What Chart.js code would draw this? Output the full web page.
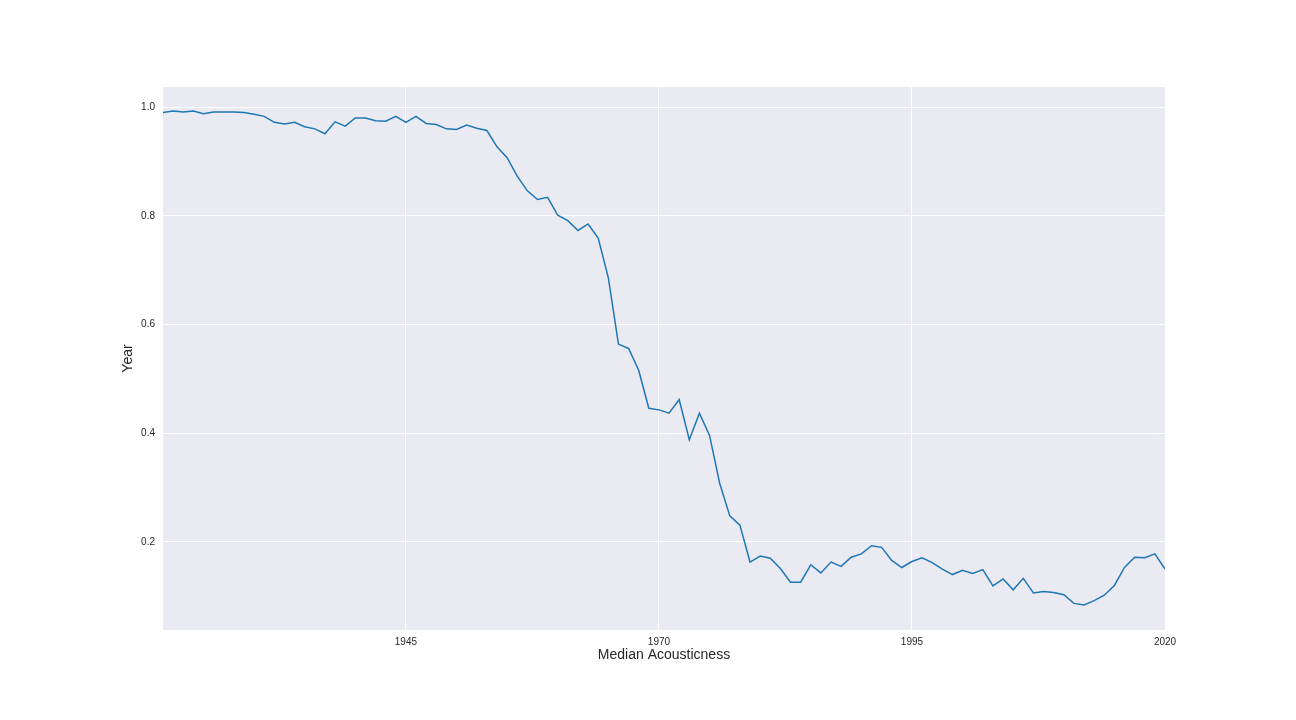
<!DOCTYPE html>
<html>
<head>
<meta charset="utf-8">
<script src="https://cdn.jsdelivr.net/npm/chart.js@4"></script>
<style>
    html, body { margin: 0; padding: 0; background: #ffffff; }
    #chart { display: block; }
</style>
</head>
<body>
<canvas id="chart" width="1296" height="720"></canvas>
<script>
// Years along the x axis
const years = [];
for (let y = 1921; y <= 2020; y++) years.push(y);

// Median acousticness per year
const acousticness = [
    0.990, 0.993, 0.991, 0.993, 0.988, 0.991, 0.991, 0.991, 0.990, 0.987,
    0.983, 0.972, 0.969, 0.972, 0.964, 0.960, 0.951, 0.973, 0.965, 0.980,
    0.980, 0.975, 0.974, 0.983, 0.972, 0.983, 0.970, 0.968, 0.960, 0.959,
    0.967, 0.961, 0.957, 0.927, 0.907, 0.873, 0.846, 0.830, 0.834, 0.801,
    0.791, 0.773, 0.785, 0.759, 0.686, 0.564, 0.556, 0.516, 0.446, 0.443,
    0.437, 0.462, 0.388, 0.437, 0.396, 0.308, 0.248, 0.231, 0.163, 0.174,
    0.170, 0.151, 0.126, 0.126, 0.158, 0.143, 0.163, 0.155, 0.172, 0.178,
    0.193, 0.190, 0.166, 0.153, 0.164, 0.171, 0.162, 0.150, 0.140, 0.148,
    0.142, 0.149, 0.119, 0.132, 0.112, 0.133, 0.106, 0.109, 0.107, 0.103,
    0.087, 0.084, 0.092, 0.102, 0.120, 0.153, 0.172, 0.171, 0.178, 0.150
];

// Tick labels
const xTicks = [1945, 1970, 1995, 2020];
const yTicks = [0.2, 0.4, 0.6, 0.8, 1.0];

const textColor = '#262626';

// Grey panel behind the plot, seaborn darkgrid look
const panelBackground = {
    id: 'panelBackground',
    beforeDraw(chart) {
        const { ctx, chartArea } = chart;
        ctx.save();
        ctx.fillStyle = '#eaeaf2';
        ctx.fillRect(chartArea.left, chartArea.top,
            chartArea.right - chartArea.left, chartArea.bottom - chartArea.top);
        ctx.restore();
    }
};

const points = years.map((y, i) => ({ x: y, y: acousticness[i] }));

new Chart(document.getElementById('chart').getContext('2d'), {
    type: 'line',
    data: {
        datasets: [{
            data: points,
            borderColor: '#1f77b4',
            borderWidth: 1.5,
            pointRadius: 0,
            fill: false,
            tension: 0
        }]
    },
    options: {
        responsive: false,
        animation: false,
        layout: {
            padding: { left: 116, top: 87, right: 131, bottom: 52 }
        },
        plugins: {
            legend: { display: false },
            tooltip: { enabled: false }
        },
        scales: {
            x: {
                type: 'linear',
                min: 1921,
                max: 2020,
                afterBuildTicks: scale => { scale.ticks = xTicks.map(v => ({ value: v })); },
                afterFit: scale => { scale.height = 38; },
                border: { display: false },
                grid: { color: '#ffffff', lineWidth: 1, drawTicks: false },
                ticks: {
                    padding: 6,
                    color: textColor,
                    font: { family: 'Liberation Sans', size: 10 },
                    maxRotation: 0,
                    callback: v => String(v)
                },
                title: {
                    display: true,
                    text: 'Median Acousticness',
                    color: textColor,
                    font: { family: 'Liberation Sans', size: 14 }
                }
            },
            y: {
                type: 'linear',
                min: 0.038,
                max: 1.037,
                afterBuildTicks: scale => { scale.ticks = yTicks.map(v => ({ value: v })); },
                afterFit: scale => { scale.width = 47; },
                border: { display: false },
                grid: { color: '#ffffff', lineWidth: 1, drawTicks: false },
                ticks: {
                    padding: 8,
                    color: textColor,
                    font: { family: 'Liberation Sans', size: 10 },
                    callback: v => v.toFixed(1)
                },
                title: {
                    display: true,
                    text: 'Year',
                    color: textColor,
                    font: { family: 'Liberation Sans', size: 14 }
                }
            }
        }
    },
    plugins: [panelBackground]
});
</script>
</body>
</html>
